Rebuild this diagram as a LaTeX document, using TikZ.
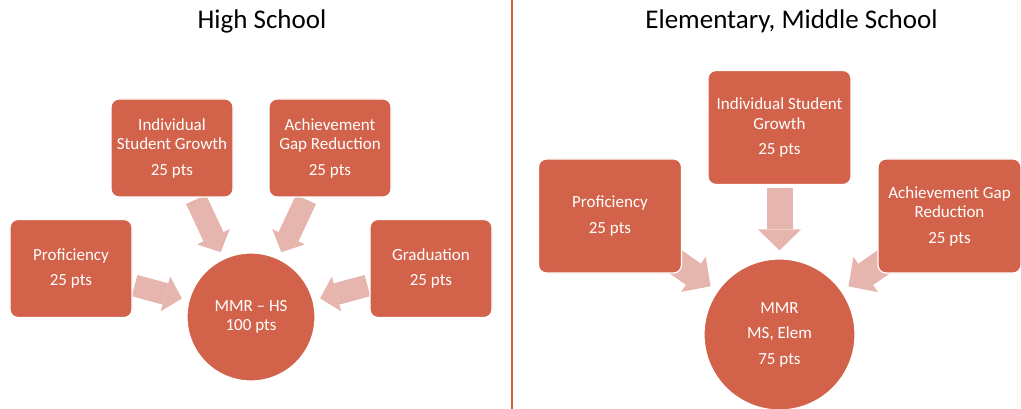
\documentclass[tikz,border=0pt]{standalone}
\usepackage{fontspec}
\setmainfont{Carlito}
\usetikzlibrary{arrows.meta}
\usetikzlibrary{backgrounds}
\definecolor{boxred}{HTML}{D2634A}
\definecolor{arrpink}{HTML}{E5B5AE}
\definecolor{divline}{HTML}{E05A34}
\tikzset{
	box/.style={rectangle, rounded corners=8pt, fill=boxred, draw=white, line width=1.2pt, text=white, align=center, font=\fontsize{17}{19.5}\selectfont},
	hsbox/.style={box, minimum width=122pt, minimum height=98pt},
	msbox/.style={box, minimum width=143pt, minimum height=114pt},
	mmr/.style={circle, fill=boxred, draw=white, line width=1.2pt, text=white, align=center, inner sep=0pt, font=\fontsize{17}{19.5}\selectfont},
	hsarrow/.style={draw=arrpink, line width=22pt, -{Triangle[width=36pt,length=17pt,line width=0pt]}, shorten >=7pt, shorten <=2pt},
	msarrow/.style={draw=arrpink, line width=26pt, -{Triangle[width=43pt,length=21pt,line width=0pt]}, shorten >=8pt, shorten <=3pt},
	title/.style={font=\fontsize{27}{32}\selectfont},
}

\begin{document}
\begin{tikzpicture}[x=1pt,y=-1pt]
\useasboundingbox (0,0) rectangle (1021,409);

% titles and divider
\node [title] (hstitle) at (262,21) {High School};
\node [title] (mstitle) at (791.5,21) {Elementary, Middle School};
\coordinate (divtop) at (512,0);
\coordinate (divbot) at (512,409);
\draw [divline, line width=1.5pt] (divtop) -- (divbot);

% high school
\node [hsbox] (hsprof) at (71,268.5) {Proficiency\\[6pt]25 pts};
\node [hsbox] (hsisg) at (172,148) {Individual\\Student Growth\\[6pt]25 pts};
\node [hsbox] (hsagr) at (330,148) {Achievement\\Gap Reduction\\[6pt]25 pts};
\node [hsbox] (hsgrad) at (431,268.5) {Graduation\\[6pt]25 pts};
\node [mmr, minimum size=128pt] (hsmmr) at (251,317) {MMR -- HS\\100 pts};

% elementary, middle school
\node [msbox] (msprof) at (610,216) {Proficiency\\[6pt]25 pts};
\node [msbox] (msisg) at (779.5,127.5) {Individual Student\\Growth\\[6pt]25 pts};
\node [msbox] (msagr) at (949.5,216) {Achievement Gap\\Reduction\\[6pt]25 pts};
\node [mmr, minimum size=151pt] (msmmr) at (779.5,334.5) {MMR\\[6pt]MS, Elem\\[6pt]75 pts};

% arrows behind the boxes
\begin{scope}[on background layer]
\draw [hsarrow] (hsprof) -- (hsmmr);
\draw [hsarrow] (hsisg) -- (hsmmr);
\draw [hsarrow] (hsagr) -- (hsmmr);
\draw [hsarrow] (hsgrad) -- (hsmmr);

\draw [msarrow, shorten <=-12pt] (msprof) -- (msmmr);
\draw [msarrow] (msisg) -- (msmmr);
\draw [msarrow, shorten <=-12pt] (msagr) -- (msmmr);
\end{scope}
\end{tikzpicture}
\end{document}
